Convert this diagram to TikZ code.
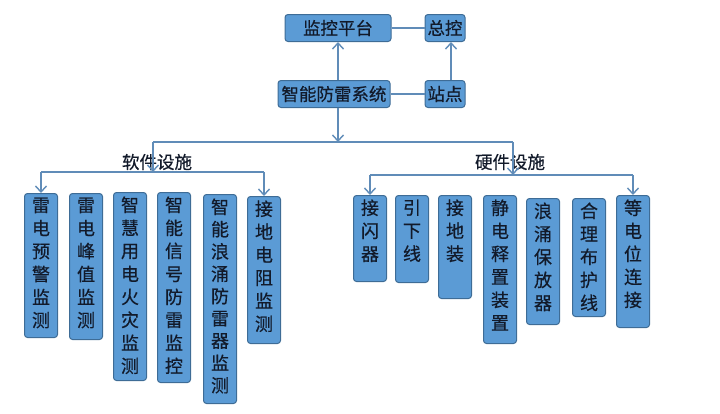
\documentclass[tikz,border=0pt]{standalone}
\usepackage{fontspec}
\setmainfont{Noto Sans CJK SC}[FakeBold=0.5]
\usetikzlibrary{arrows.meta,positioning}
\definecolor{boxblue}{RGB}{91,155,213}
\definecolor{boxedge}{RGB}{62,108,150}
\definecolor{linkblue}{RGB}{96,140,184}
\definecolor{inkdark}{RGB}{18,26,42}
% stacked characters in a box of fixed height
\newcommand{\vchars}[2]{\parbox[c][#1][t]{18pt}{\centering\fontsize{18}{23}\selectfont #2}}

\begin{document}
\begin{tikzpicture}[x=1pt, y=-1pt, >={Straight Barb[length=6pt,width=11pt]},
  topbox/.style={draw=boxedge, line width=1pt, fill=boxblue, rounded corners=3pt, text=inkdark, inner sep=1pt, minimum height=27pt, font=\fontsize{17.5}{20}\selectfont},
  vbox/.style={draw=boxedge, line width=1pt, fill=boxblue, rounded corners=3pt, text=inkdark, inner xsep=7.5pt, inner ysep=4pt, anchor=north west},
  link/.style={draw, linkblue, line width=1.4pt},
  grouplabel/.style={text=inkdark, font=\fontsize{17.5}{20}\selectfont}]
\useasboundingbox (0,0) rectangle (720,413);
\node[topbox, minimum width=106pt](ctrl) at (338,28){监控平台};
\node[topbox, minimum width=40pt](zk) at (445,28){总控};
\node[topbox, minimum width=112pt](sys) at (334,94){智能防雷系统};
\node[topbox, minimum width=40pt](zd) at (445,94){站点};
%top links
\path[link](ctrl)--(zk);
\path[link](sys)--(zd);
\path[link, ->](sys.north -| ctrl)--(ctrl.south);
\path[link, ->]([xshift=6pt]zd.north)--([xshift=6pt]zk.south);
%software boxes
\node[vbox](s1) at (24,193){\vchars{136pt}{雷\\电\\预\\警\\监\\测}};
\node[vbox](s2) at (69,193){\vchars{138pt}{雷\\电\\峰\\值\\监\\测}};
\node[vbox](s3) at (113,192){\vchars{180pt}{智\\慧\\用\\电\\火\\灾\\监\\测}};
\node[vbox](s4) at (157,192){\vchars{182pt}{智\\能\\信\\号\\防\\雷\\监\\控}};
\node[vbox](s5) at (203,194){\vchars{201pt}{\fontsize{18}{22.3}\selectfont 智\\能\\浪\\涌\\防\\雷\\器\\监\\测}};
\node[vbox](s6) at (247,196){\vchars{139pt}{接\\地\\电\\阻\\监\\测}};
%hardware boxes
\node[vbox](h1) at (353,195){\vchars{78pt}{接\\闪\\器}};
\node[vbox](h2) at (395,195){\vchars{79pt}{引\\下\\线}};
\node[vbox](h3) at (438,195){\vchars{95pt}{接\\地\\装}};
\node[vbox](h4) at (483,195){\vchars{140pt}{静\\电\\释\\置\\装\\置}};
\node[vbox](h5) at (526,198){\vchars{118pt}{浪\\涌\\保\\放\\器}};
\node[vbox](h6) at (572,198){\vchars{110pt}{合\\理\\布\\护\\线}};
\node[vbox](h7) at (616,195){\vchars{124pt}{等\\电\\位\\连\\接}};
%split
\coordinate (split) at (338,142);
\coordinate (sw) at (153,142);
\coordinate (hw) at (513,142);
\coordinate (sbar) at (153,172);
\coordinate (hbar) at (513,175);
\node[grouplabel](soft) at (157,162){软件设施};
\node[grouplabel](hard) at (510,162){硬件设施};
\path[link, ->](sys.south -| split)--(split);
\path[link](sw)--(hw);
\path[link, ->](sw)--(sbar);
\path[link, ->](hw)--(hbar);
%group bars
\path[link](s1.north |- sbar)--(s6.north |- sbar);
\path[link, ->](s1.north |- sbar)--(s1.north);
\path[link, ->](s6.north |- sbar)--(s6.north);
\path[link](h1.north |- hbar)--(h7.north |- hbar);
\path[link, ->](h1.north |- hbar)--(h1.north);
\path[link, ->](h7.north |- hbar)--(h7.north);
\end{tikzpicture}
\end{document}
